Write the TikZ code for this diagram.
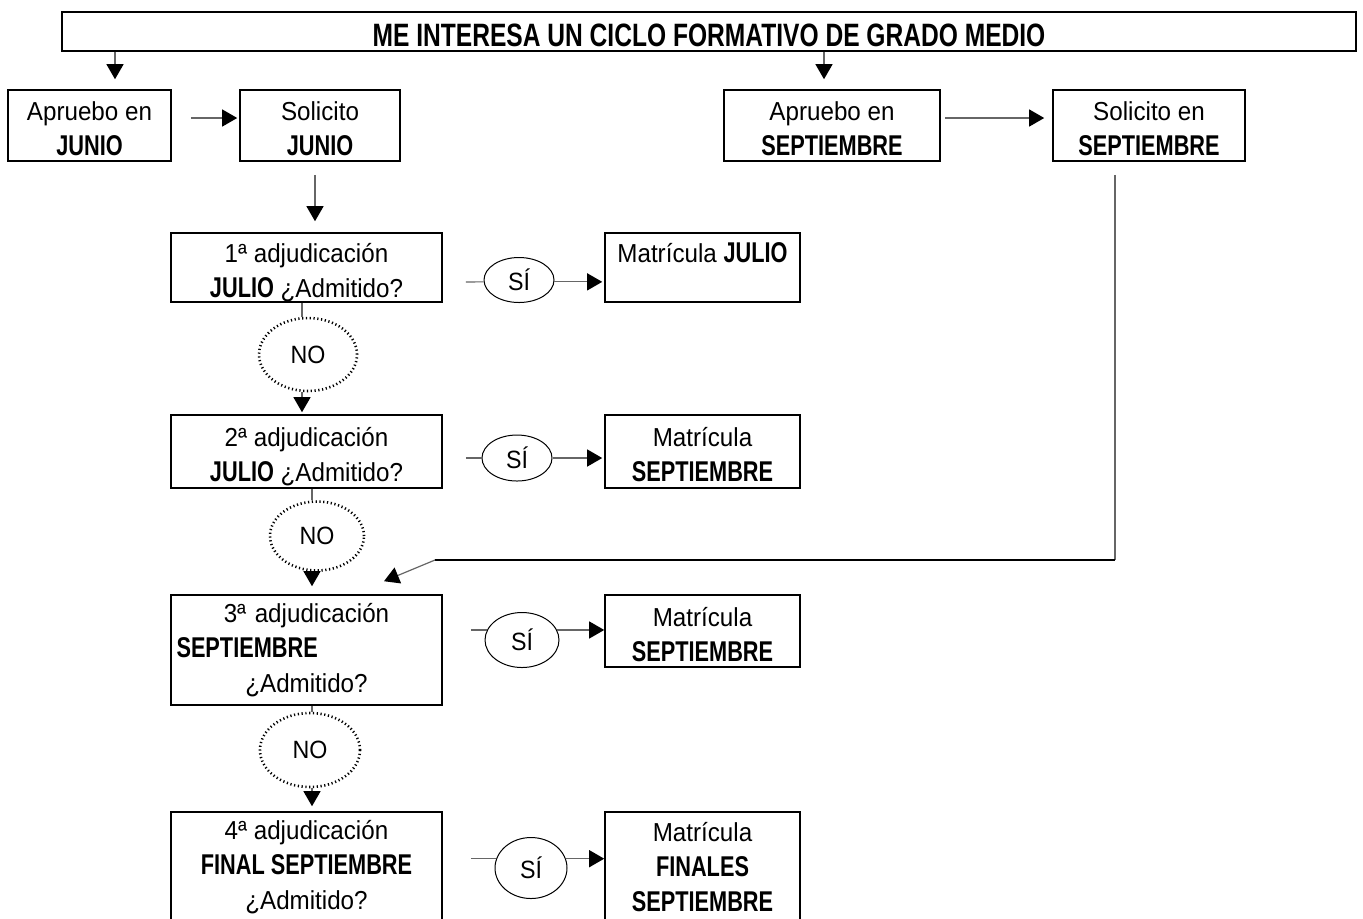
\documentclass[tikz,border=0pt]{standalone}
\usepackage{fontspec}
\setmainfont{Liberation Sans}[FakeStretch=0.93,BoldFeatures={Scale=1.1,FakeStretch=0.76}]
\usetikzlibrary{arrows.meta,shapes.geometric}

\begin{document}
\begin{tikzpicture}[x=0.5pt,y=-0.5pt,>={Triangle[width=8.5pt,length=7.5pt,color=black]},
        font=\fontsize{13}{17.5}\selectfont,
        caja/.style={draw,line width=0.8pt,align=center,inner xsep=2pt,inner ysep=0pt},
        dos/.style={text height=30pt,text depth=0pt},
        si/.style={ellipse,draw,line width=0.5pt,inner sep=0pt,font=\fontsize{12.5}{14}\selectfont},
        no/.style={ellipse,draw,line width=1.3pt,dash pattern=on 0.6pt off 1.3pt,inner sep=0pt,font=\fontsize{12.5}{14}\selectfont},
        linea/.style={black!60,line width=0.6pt}]
        \useasboundingbox (0,0) rectangle (1363,918);

        % cabecera
        \node[caja,minimum width=647pt,minimum height=19.5pt] (titulo) at (709,31.5) {};
        \node[font=\fontsize{14.7}{17}\selectfont\bfseries] (tit) at (709,35) {ME INTERESA UN CICLO FORMATIVO DE GRADO MEDIO};

        \node[caja,dos,minimum width=81.5pt,minimum height=35.5pt] (ajunio) at (89.5,125.5) {Apruebo en\\\textbf{JUNIO}};
        \node[caja,dos,minimum width=80pt,minimum height=35.5pt] (sjunio) at (320,125.5) {Solicito\\\textbf{JUNIO}};
        \node[caja,dos,minimum width=108pt,minimum height=35.5pt] (asept) at (832,125.5) {Apruebo en\\\textbf{SEPTIEMBRE}};
        \node[caja,dos,minimum width=96pt,minimum height=35.5pt] (ssept) at (1149,125.5) {Solicito en\\\textbf{SEPTIEMBRE}};

        % adjudicaciones
        \node[caja,dos,minimum width=135.5pt,minimum height=34.5pt] (adj1) at (306.5,267.5) {1ª adjudicación\\\textbf{JULIO} ¿Admitido?};
        \node[caja,dos,minimum width=135.5pt,minimum height=36.5pt] (adj2) at (306.5,451.5) {2ª adjudicación\\\textbf{JULIO} ¿Admitido?};
        \node[caja,minimum width=135.5pt,minimum height=55pt,text width=130pt] (adj3) at (306.5,650) {3ª adjudicación\\\textbf{SEPTIEMBRE}\hfill\null\\¿Admitido?};
        \node[caja,minimum width=135.5pt,minimum height=55pt] (adj4) at (306.5,867) {4ª adjudicación\\\textbf{FINAL SEPTIEMBRE}\\¿Admitido?};

        % matriculas
        \node[caja,dos,minimum width=97.5pt,minimum height=34.5pt] (mat1) at (702.5,267.5) {Matrícula \textbf{JULIO}\\\mbox{}};
        \node[caja,dos,minimum width=97.5pt,minimum height=36.5pt] (mat2) at (702.5,451.5) {Matrícula\\\textbf{SEPTIEMBRE}};
        \node[caja,dos,minimum width=97.5pt,minimum height=36pt] (mat3) at (702.5,631) {Matrícula\\\textbf{SEPTIEMBRE}};
        \node[caja,minimum width=97.5pt,minimum height=55pt] (mat4) at (702.5,867) {Matrícula\\\textbf{FINALES}\\\textbf{SEPTIEMBRE}};

        \node[si,minimum width=35pt,minimum height=22.5pt] (si1) at (519,280) {SÍ};
        \node[si,minimum width=35pt,minimum height=23pt] (si2) at (517,458) {SÍ};
        \node[si,minimum width=37pt,minimum height=27.5pt] (si3) at (522,640) {SÍ};
        \node[si,minimum width=36pt,minimum height=30.5pt] (si4) at (531,868) {SÍ};

        \node[no,minimum width=49pt,minimum height=36.5pt] (no1) at (308,354.5) {NO};
        \node[no,minimum width=47pt,minimum height=34.5pt] (no2) at (317,536) {NO};
        \node[no,minimum width=50pt,minimum height=37pt] (no3) at (310,750) {NO};

        % flechas
        \draw[linea,->] ([xshift=12.75pt]ajunio.north |- titulo.south) -- ([xshift=12.75pt,yshift=5pt]ajunio.north);
        \draw[linea,->] ([xshift=-4pt]asept.north |- titulo.south) -- ([xshift=-4pt,yshift=5pt]asept.north);
        \draw[linea,->,shorten <=9.5pt,shorten >=1pt] ([yshift=3.75pt]ajunio.east) -- ([yshift=3.75pt]sjunio.west);
        \draw[linea,->,shorten <=2pt,shorten >=4pt] ([yshift=3.75pt]asept.east) -- ([yshift=3.75pt]ssept.west);
        \draw[linea,->,shorten <=6.5pt,shorten >=5.5pt] ([xshift=-2.5pt]sjunio.south) -- ([xshift=-2.5pt]sjunio.south |- adj1.north);

        \draw[linea,shorten <=11.5pt] ([yshift=-7.25pt]adj1.east) -- (si1.183);
        \draw[linea,->,shorten >=1pt] (si1.-3) -- (mat1.west |- si1.-3);
        \draw[linea,shorten <=11.5pt] ([yshift=-3.25pt]adj2.east) -- (si2.west);
        \draw[linea,->,shorten >=1pt] (si2.east) -- (mat2.west |- si2.east);
        \draw[linea,shorten <=14pt] (adj3.east |- si3.164) -- (si3.164);
        \draw[linea,->,shorten >=0pt] (si3.16) -- (mat3.west |- si3.16);
        \draw[linea,shorten <=14pt] (adj4.east |- si4.165) -- (si4.165);
        \draw[linea,->,shorten >=0pt] (si4.15) -- (mat4.west |- si4.15);

        \draw[linea] ([xshift=-2.25pt]adj1.south) -- ([xshift=-2.25pt]adj1.south |- no1.north);
        \draw[linea,->,shorten >=1pt] ([xshift=-2.25pt]adj1.south |- no1.south) -- ([xshift=-2.25pt]adj1.south |- adj2.north);
        \draw[linea] ([xshift=2.75pt]adj2.south) -- ([xshift=2.75pt]adj2.south |- no2.north);
        \draw[linea,->,shorten >=4pt] ([xshift=2.75pt]adj2.south |- no2.south) -- ([xshift=2.75pt]adj2.south |- adj3.north);
        \draw[linea] ([xshift=2.75pt]adj3.south) -- ([xshift=2.75pt]adj3.south |- no3.north);
        \draw[linea,->,shorten >=2.5pt] ([xshift=2.75pt]adj3.south |- no3.south) -- ([xshift=2.75pt]adj3.south |- adj4.north);

        % de septiembre a la 3a adjudicacion
        \coordinate (esq) at (435,560);
        \draw[linea] ([xshift=-17pt,yshift=-6.5pt]ssept.south) -- ([xshift=-17pt]ssept.south |- esq);
        \draw[line width=1.3pt] ([xshift=-17pt]ssept.south |- esq) -- (esq);
        \draw[linea,->] (esq) -- ([xshift=38.75pt,yshift=6.5pt]adj3.north);
\end{tikzpicture}
\end{document}
